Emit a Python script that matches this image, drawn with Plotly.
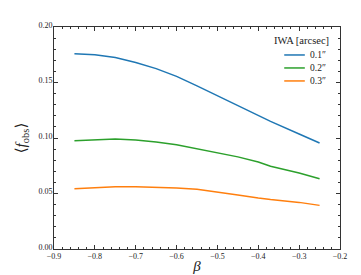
import plotly.graph_objects as go

beta = [-0.85, -0.8, -0.75, -0.7, -0.65, -0.6, -0.55, -0.5, -0.45, -0.4, -0.37, -0.3, -0.25]
f_01 = [0.176, 0.175, 0.1725, 0.168, 0.1625, 0.1555, 0.147, 0.138, 0.129, 0.1205, 0.115, 0.1036, 0.0955]
f_02 = [0.0976, 0.0985, 0.0990, 0.0982, 0.0965, 0.0940, 0.0905, 0.0870, 0.0830, 0.0784, 0.0745, 0.0685, 0.0633]
f_03 = [0.0543, 0.0553, 0.0560, 0.0561, 0.0558, 0.0549, 0.0538, 0.0514, 0.0487, 0.0459, 0.0445, 0.0420, 0.0393]
labels = ["0.1″", "0.2″", "0.3″"]
legend_title = "IWA [arcsec]"
colors = ["#1f77b4", "#2ca02c", "#ff7f0e"]

fig = go.Figure()
for y, lab, c in zip([f_01, f_02, f_03], labels, colors):
    fig.add_trace(go.Scatter(x=beta, y=y, mode="lines", name=lab,
                             line=dict(color=c, width=1.5)))

font_family = "Liberation Serif, DejaVu Serif, serif"
axis_common = dict(
    showline=True, linecolor="#333", linewidth=1, mirror="ticks",
    ticks="inside", ticklen=4, tickwidth=1, tickcolor="#333",
    showgrid=False, zeroline=False,
    tickfont=dict(family=font_family, size=8, color="#222"),
)
fig.update_xaxes(range=[-0.9, -0.2], dtick=0.1, tickformat=".1f",
                 minor=dict(ticks="inside", ticklen=2, dtick=0.02, tickcolor="#333"),
                 ticklabelstandoff=-1,
                 title=dict(text="<i>β</i>", font=dict(family=font_family, size=15, color="#222"), standoff=0),
                 **axis_common)
fig.update_yaxes(range=[0, 0.2], dtick=0.05, tickformat=".2f",
                 minor=dict(ticks="inside", ticklen=2, dtick=0.01, tickcolor="#333"),
                 ticklabelstandoff=-1, ticklabelshift=-2,
                 title=dict(text="⟨<i>f</i><sub>obs</sub>⟩", font=dict(family=font_family, size=15, color="#222"), standoff=8),
                 **axis_common)

# legend drawn as a compact box (matplotlib-like spacing)
annotations = [dict(text=legend_title, xref="paper", yref="paper", x=0.968, y=0.941,
                    xanchor="right", yanchor="middle", showarrow=False,
                    font=dict(family=font_family, size=10.5, color="#222"))]
shapes = []
for i, (lab, c) in enumerate(zip(labels, colors)):
    yy = 0.874 - i * 0.0585
    shapes.append(dict(type="line", xref="paper", yref="paper", x0=0.805, x1=0.877, y0=yy, y1=yy,
                       line=dict(color=c, width=1.5)))
    annotations.append(dict(text=lab, xref="paper", yref="paper", x=0.888, y=yy,
                            xanchor="left", yanchor="middle", showarrow=False,
                            font=dict(family=font_family, size=9.5, color="#222")))

fig.update_layout(
    width=361, height=275,
    margin=dict(l=40, r=29, t=19, b=34),
    paper_bgcolor="white", plot_bgcolor="white",
    showlegend=False,
    annotations=annotations, shapes=shapes,
)
fig.write_html("out.html")
